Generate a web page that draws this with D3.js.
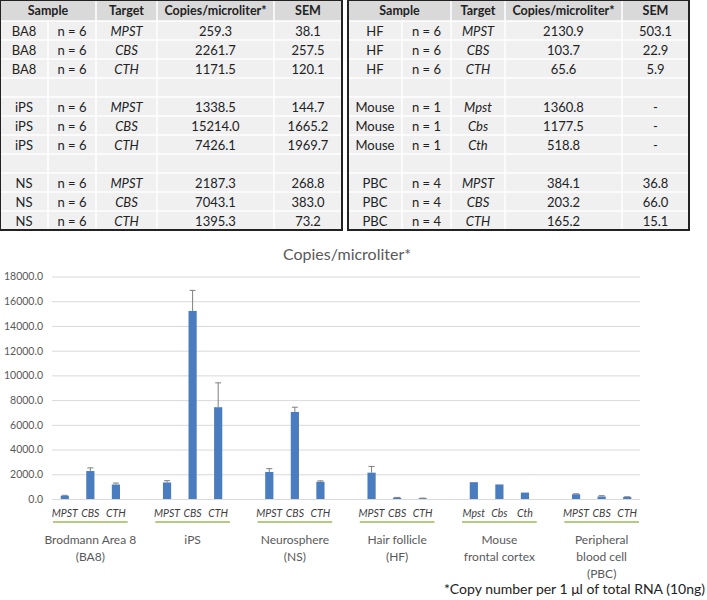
<!DOCTYPE html>
<html>
<head>
<meta charset="utf-8">
<script src="https://cdn.jsdelivr.net/npm/d3@7"></script>
<style>
  body { margin: 0; background: #fff; }
  svg text { font-family: Lato, "Noto Sans", sans-serif; }
</style>
</head>
<body>
<script>
// data
var samples = ["BA8", "iPS", "NS", "HF", "Mouse", "PBC"]
var sampleN = ["n = 6", "n = 6", "n = 6", "n = 6", "n = 1", "n = 4"]
var groupLabels = [["Brodmann Area 8", "(BA8)"], ["iPS"], ["Neurosphere", "(NS)"],
                   ["Hair follicle", "(HF)"], ["Mouse", "frontal cortex"], ["Peripheral", "blood cell", "(PBC)"]]
var targets = [["MPST", "CBS", "CTH"], ["MPST", "CBS", "CTH"], ["MPST", "CBS", "CTH"],
               ["MPST", "CBS", "CTH"], ["Mpst", "Cbs", "Cth"], ["MPST", "CBS", "CTH"]]
var copies = [[259.3, 2261.7, 1171.5], [1338.5, 15214.0, 7426.1], [2187.3, 7043.1, 1395.3],
              [2130.9, 103.7, 65.6], [1360.8, 1177.5, 518.8], [384.1, 203.2, 165.2]]
var sem = [[38.1, 257.5, 120.1], [144.7, 1665.2, 1969.7], [268.8, 383.0, 73.2],
           [503.1, 22.9, 5.9], [null, null, null], [36.8, 66.0, 15.1]]
var yTicks = [0, 2000, 4000, 6000, 8000, 10000, 12000, 14000, 16000, 18000]
var headers = ["Sample", "Target", "Copies/microliter*", "SEM"]

var width = 707
var height = 600

var svg = d3.select("body")
  .append("svg")
    .attr("width", width)
    .attr("height", height)

// ---------- the two tables ----------
function drawTable(cols, groups) {
  var headH = 21, rowH = 19
  var g = svg.append("g")
  var rows = []
  groups.forEach(function(gi, k) {
    if (k > 0) rows.push(null)
    targets[gi].forEach(function(t, j) {
      rows.push([samples[gi], sampleN[gi], t, copies[gi][j].toFixed(1),
                 sem[gi][j] == null ? "-" : sem[gi][j].toFixed(1)])
    })
  })
  var x0 = cols[0], x1 = cols[cols.length - 1]
  var totalH = headH + rows.length * rowH

  g.append("rect").attr("x", x0).attr("y", 0).attr("width", x1 - x0).attr("height", headH)
    .attr("fill", "#d9d9d9")
  g.append("rect").attr("x", x0).attr("y", headH).attr("width", x1 - x0).attr("height", rows.length * rowH)
    .attr("fill", "#f0f0f0")

  // white cell lines
  rows.forEach(function(r, i) {
    g.append("line").attr("x1", x0).attr("x2", x1)
      .attr("y1", headH + i * rowH).attr("y2", headH + i * rowH)
      .attr("stroke", "#fff").attr("stroke-width", 1.5)
  })
  cols.slice(1, -1).forEach(function(c, i) {
    g.append("line").attr("x1", c).attr("x2", c)
      .attr("y1", i == 0 ? headH : 0).attr("y2", totalH)
      .attr("stroke", "#fff").attr("stroke-width", 1.5)
  })

  // header
  var hx = [(cols[0] + cols[2]) / 2, (cols[2] + cols[3]) / 2, (cols[3] + cols[4]) / 2, (cols[4] + cols[5]) / 2]
  headers.forEach(function(h, i) {
    g.append("text").attr("x", hx[i]).attr("y", headH / 2 + 1)
      .attr("text-anchor", "middle").attr("dominant-baseline", "middle")
      .style("font-size", "12.5px").style("font-weight", "bold").attr("fill", "#222")
      .text(h)
  })
  rows.forEach(function(r, i) {
    if (!r) return
    r.forEach(function(v, c) {
      g.append("text").attr("x", (cols[c] + cols[c + 1]) / 2)
        .attr("y", headH + i * rowH + rowH / 2 + 2)
        .attr("text-anchor", "middle").attr("dominant-baseline", "middle")
        .style("font-size", "13px").style("font-style", c == 2 ? "italic" : "normal")
        .attr("fill", "#222")
        .text(v)
    })
  })
  g.append("rect").attr("x", x0).attr("y", 0).attr("width", x1 - x0).attr("height", totalH)
    .attr("fill", "none").attr("stroke", "#222").attr("stroke-width", 2)
}
drawTable([0, 48, 96, 157, 274, 342], [0, 1, 2])
drawTable([348, 402, 451, 505, 622, 689], [3, 4, 5])

// ---------- bar chart ----------
var slots = []
samples.forEach(function(s, i) {
  if (i > 0) slots.push("gap" + i)
  targets[i].forEach(function(t, j) { slots.push(i + "-" + j) })
})
var bars = []
samples.forEach(function(s, i) {
  targets[i].forEach(function(t, j) {
    bars.push({ key: i + "-" + j, group: i, target: t, value: copies[i][j], sem: sem[i][j] })
  })
})

var x = d3.scaleBand().domain(slots).range([52, 640]).paddingInner(0.68).paddingOuter(0.34)
var y = d3.scaleLinear().domain([0, 18000]).range([499, 276.5])

svg.append("text")
  .attr("x", 347).attr("y", 260)
  .attr("text-anchor", "middle")
  .style("font-size", "16px").attr("fill", "#595959")
  .text("Copies/microliter*")

// gridlines + y labels
var yAxis = svg.append("g").attr("transform", "translate(52,0)")
  .call(d3.axisLeft(y).tickValues(yTicks).tickSize(-588).tickFormat(d3.format(".1f")).tickPadding(9))
yAxis.select(".domain").remove()
yAxis.selectAll(".tick line").attr("stroke", "#d9d9d9")
yAxis.selectAll(".tick text").attr("fill", "#595959").style("font-size", "10.5px")
  .style("font-family", "Lato, sans-serif")

// bars
svg.append("g").selectAll("rect")
  .data(bars).enter()
  .append("rect")
    .attr("x", function(d) { return x(d.key) })
    .attr("width", x.bandwidth())
    .attr("y", function(d) { return y(d.value) })
    .attr("height", function(d) { return y(0) - y(d.value) })
    .attr("fill", "#4a7cc0")

// error bars (upper only)
var err = svg.append("g").selectAll("g")
  .data(bars.filter(function(d) { return d.sem != null })).enter()
  .append("g")
    .attr("stroke", "#7f7f7f").attr("stroke-width", 1)
err.append("line")
  .attr("x1", function(d) { return x(d.key) + x.bandwidth() / 2 })
  .attr("x2", function(d) { return x(d.key) + x.bandwidth() / 2 })
  .attr("y1", function(d) { return y(d.value) })
  .attr("y2", function(d) { return y(d.value + d.sem) })
err.append("line")
  .attr("x1", function(d) { return x(d.key) + x.bandwidth() / 2 - 3 })
  .attr("x2", function(d) { return x(d.key) + x.bandwidth() / 2 + 3 })
  .attr("y1", function(d) { return y(d.value + d.sem) })
  .attr("y2", function(d) { return y(d.value + d.sem) })

// gene labels
svg.append("g").selectAll("text")
  .data(bars).enter()
  .append("text")
    .attr("x", function(d) { return x(d.key) + x.bandwidth() / 2 })
    .attr("y", 517)
    .attr("text-anchor", "middle")
    .style("font-size", "10.5px").style("font-style", "italic")
    .attr("fill", "#404040")
    .text(function(d) { return d.target })

// green group underline + group names
var step = x.step()
samples.forEach(function(s, i) {
  var a = x(i + "-0") + x.bandwidth() / 2 - step / 2
  var b = x(i + "-2") + x.bandwidth() / 2 + step / 2
  svg.append("line").attr("x1", a + 1).attr("x2", b - 1).attr("y1", 522).attr("y2", 522)
    .attr("stroke", "#9bbb59").attr("stroke-width", 1.5)
  var t = svg.append("text").attr("x", (a + b) / 2).attr("y", 544)
    .attr("text-anchor", "middle").style("font-size", "12px").attr("fill", "#595959")
  groupLabels[i].forEach(function(l, k) {
    t.append("tspan").attr("x", (a + b) / 2).attr("dy", k == 0 ? 0 : 17).text(l)
  })
})

svg.append("text")
  .attr("x", 705).attr("y", 594)
  .attr("text-anchor", "end")
  .style("font-size", "14px").attr("fill", "#222")
  .text("*Copy number per 1 μl of total RNA (10ng)")
</script>
</body>
</html>
